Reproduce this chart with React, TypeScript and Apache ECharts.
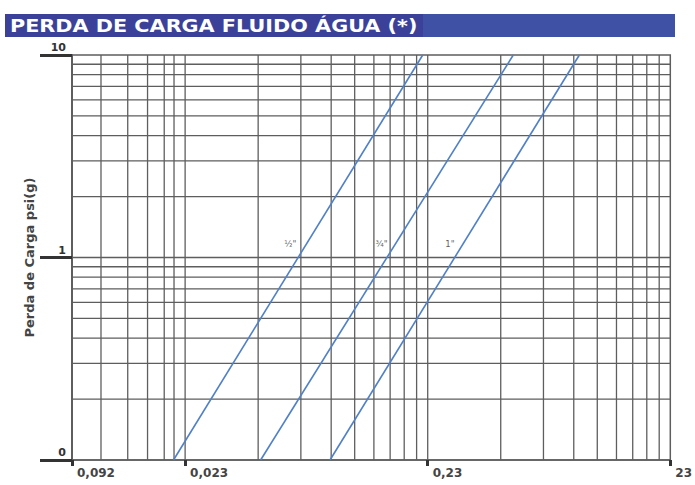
import React, { useEffect, useRef } from 'react';
import * as echarts from 'echarts';

const TITLE = 'PERDA DE CARGA FLUIDO ÁGUA (*)';
const Y_NAME = 'Perda de Carga psi(g)';

// x axis (log scale, real values)
const X_MIN = 0.00786;
const X_MAX = 2.3;
const X_TICK_VALUES = [0.00786, 0.023, 0.23, 2.3];
const X_TICK_LABELS = ['0,092', '0,023', '0,23', '23'];

// y axis (log scale, real values)
const Y_MIN = 0.1;
const Y_MAX = 10;
const Y_TICK_VALUES = [0.1, 1, 10];
const Y_TICK_LABELS = ['0', '1', '10'];

// grid lines
const X_GRID = [
  0.01035, 0.01334, 0.0161, 0.01886, 0.0207, 0.023,
  0.046, 0.069, 0.092, 0.115, 0.138, 0.161, 0.184, 0.207, 0.23,
  0.46, 0.69, 0.92, 1.15, 1.38, 1.61, 1.84, 2.07,
];
const Y_GRID = [
  0.2, 0.3, 0.4, 0.5, 0.6, 0.7, 0.8, 0.9, 1,
  2, 3, 4, 5, 6, 7, 8, 9,
];

// pipe size curves: x at y = 0.1 and x at y = 10
const SIZES = ['½"', '¾"', '1"'];
const LINE_Y = [0.1, 10];
const LINE_X_START = [0.0206, 0.0471, 0.091];
const LINE_X_END = [0.2194, 0.518, 0.97];
const LABEL_X = [0.0624, 0.1484, 0.284];
const LABEL_Y = [1.16, 1.16, 1.16];

const L = (v: number) => Math.log10(v);

const GRID_COLOR = '#5e5e5e';
const CURVE_COLOR = '#4f80c8';
const FONT = 'DejaVu Sans';

export default function App() {
  const ref = useRef<HTMLDivElement>(null);

  useEffect(() => {
    if (!ref.current) return;
    const chart = echarts.init(ref.current, undefined, { renderer: 'svg' });

    const xLog = X_TICK_VALUES.map(L);
    const yLog = Y_TICK_VALUES.map(L);

    const vData: any[] = [];
    X_GRID.forEach((x) => {
      vData.push([L(x), L(Y_MIN)], [L(x), L(Y_MAX)], ['-', '-']);
    });
    const hData: any[] = [];
    Y_GRID.forEach((y) => {
      hData.push([L(X_MIN), L(y)], [L(X_MAX), L(y)], ['-', '-']);
    });

    const nearest = (arr: number[], v: number) => {
      let best = 0;
      arr.forEach((a, i) => {
        if (Math.abs(a - v) < Math.abs(arr[best] - v)) best = i;
      });
      return best;
    };

    const gridStyle = { color: GRID_COLOR, width: 1.3 };

    const series: any[] = [
      {
        type: 'line',
        data: vData,
        symbol: 'none',
        silent: true,
        connectNulls: false,
        lineStyle: gridStyle,
        z: 1,
      },
      {
        type: 'line',
        data: hData,
        symbol: 'none',
        silent: true,
        connectNulls: false,
        lineStyle: gridStyle,
        z: 1,
      },
    ];

    SIZES.forEach((name, i) => {
      series.push({
        type: 'line',
        name,
        data: [
          [L(LINE_X_START[i]), L(LINE_Y[0])],
          [L(LINE_X_END[i]), L(LINE_Y[1])],
        ],
        symbol: 'none',
        lineStyle: { color: CURVE_COLOR, width: 1.6 },
        z: 3,
      });
    });

    series.push({
      type: 'scatter',
      data: SIZES.map((s, i) => [L(LABEL_X[i]), L(LABEL_Y[i]), s]),
      symbolSize: 0,
      silent: true,
      label: {
        show: true,
        position: 'inside',
        formatter: (p: any) => p.value[2],
        fontSize: 8.5,
        color: '#333',
        fontFamily: FONT,
      },
      z: 4,
    });

    chart.setOption({
      animation: false,
      backgroundColor: '#ffffff',
      grid: {
        left: 72,
        right: 20,
        top: 55,
        bottom: 25,
        show: true,
        borderColor: GRID_COLOR,
        borderWidth: 1.5,
      },
      xAxis: {
        type: 'value',
        min: L(X_MIN),
        max: L(X_MAX),
        splitLine: { show: false },
        axisLine: { show: true, onZero: false, lineStyle: { color: GRID_COLOR, width: 1.5 } },
        axisTick: {
          show: true,
          customValues: xLog,
          length: 6,
          lineStyle: { color: '#333', width: 3 },
        },
        axisLabel: {
          customValues: xLog,
          formatter: (v: number) => X_TICK_LABELS[nearest(xLog, v)],
          align: 'left',
          padding: [0, 0, 0, 5],
          margin: 7,
          fontSize: 12,
          fontWeight: 'bold',
          color: '#444',
          fontFamily: FONT,
        },
      },
      yAxis: {
        type: 'value',
        min: L(Y_MIN),
        max: L(Y_MAX),
        interval: 1,
        splitLine: { show: false },
        axisLine: { show: true, onZero: false, lineStyle: { color: GRID_COLOR, width: 2 } },
        axisTick: { show: true, length: 32, lineStyle: { color: '#333', width: 3 } },
        axisLabel: {
          formatter: (v: number) => Y_TICK_LABELS[nearest(yLog, v)],
          align: 'right',
          verticalAlign: 'bottom',
          margin: 6,
          padding: [0, 0, 2, 0],
          fontSize: 11,
          fontWeight: 'bold',
          color: '#333',
          fontFamily: FONT,
        },
        name: Y_NAME,
        nameLocation: 'middle',
        nameGap: 36,
        nameRotate: 90,
        nameTextStyle: {
          fontSize: 13,
          fontWeight: 'bold',
          color: '#444',
          fontFamily: FONT,
        },
      },
      graphic: [
        {
          type: 'rect',
          shape: { x: 5, y: 14, width: 418, height: 23 },
          style: { fill: '#3b4199' },
          silent: true,
        },
        {
          type: 'rect',
          shape: { x: 423, y: 14, width: 252, height: 23 },
          style: { fill: '#3f51a5' },
          silent: true,
        },
        {
          type: 'text',
          x: 10,
          y: 25.5,
          scaleX: 1.22,
          style: {
            text: TITLE,
            fill: '#ffffff',
            font: `bold 17px "${FONT}"`,
            verticalAlign: 'middle',
            align: 'left',
          },
          silent: true,
        },
      ],
      series,
    });

    return () => chart.dispose();
  }, []);

  return (
    <div
      ref={ref}
      style={{ position: 'fixed', left: 0, top: 0, width: 695, height: 485 }}
    />
  );
}
